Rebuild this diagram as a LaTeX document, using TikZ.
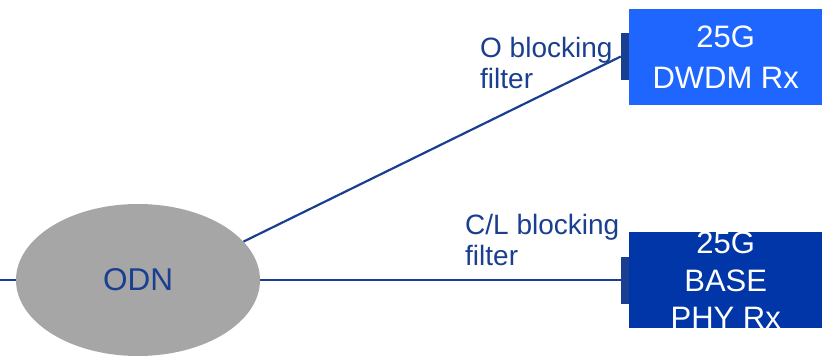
\documentclass[tikz,border=0pt]{standalone}
\usepackage{fontspec}
\setmainfont{Liberation Sans}
\usetikzlibrary{shapes.geometric}
\definecolor{navy}{HTML}{1A3F91}
\definecolor{rxlight}{HTML}{1F66FF}
\definecolor{rxdark}{HTML}{0036A8}
\definecolor{cloud}{HTML}{A6A6A6}
\begin{document}
\begin{tikzpicture}[x=1pt,y=-1pt,
  fiber/.style={draw=navy, line width=2.2pt},
  rxbox/.style={rectangle, minimum width=193pt, minimum height=96pt, inner sep=0pt, anchor=north west},
  filt/.style={rectangle, fill=navy, minimum width=10pt, minimum height=47pt, inner sep=0pt},
  lbl/.style={text=navy, font=\fontsize{28}{31}\selectfont, align=left, inner sep=0pt, anchor=north west},
  rxtext/.style={text=white, align=center, inner sep=0pt}]
\useasboundingbox (0,0) rectangle (826,358);

% optical distribution network
\node[ellipse, fill=cloud, minimum width=244pt, minimum height=152pt, inner sep=0pt,
      text=navy, font=\fontsize{31.5}{36}\selectfont] (odn) at (138,280) {ODN};

% wavelength blocking filters in front of the receivers
\node[filt] (ofilt) at (626,56.5) {};
\node[filt] (cfilt) at (626,280) {};

% receivers
\node[rxbox, fill=rxlight] (obox) at (629,9) {};
\node[rxbox, fill=rxdark] (cbox) at (629,232) {};
\node[rxtext, font=\fontsize{31}{41}\selectfont] (otext) at (obox.center) {25G\\DWDM Rx};
\begin{scope}
  \clip (cbox.north west) rectangle (cbox.south east);
  \node[rxtext, font=\fontsize{31}{37.5}\selectfont] (ctext) at (cbox.center) {25G\\BASE\\PHY Rx};
\end{scope}

% fibre links
\coordinate (feed) at (0,280);
\draw[fiber] (feed) -- (odn.west);
\draw[fiber] (odn.east) -- (cfilt.west);
\draw[fiber] (odn.20) -- (ofilt.west);

% filter labels
\node[lbl] (olbl) at (480,37) {O blocking\\filter};
\node[lbl] (clbl) at (465,214) {C/L blocking\\filter};
\end{tikzpicture}
\end{document}
